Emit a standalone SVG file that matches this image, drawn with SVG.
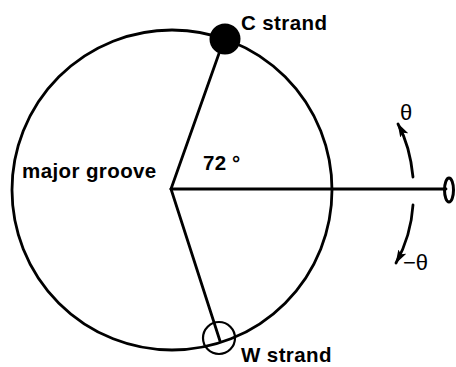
<svg xmlns="http://www.w3.org/2000/svg" width="456" height="367" viewBox="0 0 456 367">
<defs>
<style>
.ln{fill:none;stroke:#000;stroke-width:2.8;stroke-linecap:round}
.lbl{font-family:"Liberation Sans",Arial,sans-serif;font-weight:bold;font-size:20.5px;letter-spacing:0.4px;fill:#000}
.sym{font-family:"Liberation Sans",Arial,sans-serif;font-size:22px;fill:#000}
</style>
<marker id="ah" viewBox="0 0 14 9" refX="13" refY="4.5" markerWidth="14" markerHeight="9" markerUnits="userSpaceOnUse" orient="auto">
<path d="M0,0 L14,4.5 L0,9 L3,4.5 Z" fill="#000"/>
</marker>
</defs>
<g id="helix">
<circle class="ln" cx="172" cy="190" r="160"/>
</g>
<g id="connectors">
<line class="ln" x1="171" y1="189" x2="222" y2="45"/>
<line class="ln" x1="171" y1="189" x2="220" y2="341"/>
<line class="ln" x1="171" y1="189" x2="446" y2="189" stroke-width="3.2"/>
<path class="ln" d="M413,177 Q410,146 398,124" marker-end="url(#ah)"/>
<path class="ln" d="M413,205 Q411,236 396,263" marker-end="url(#ah)"/>
</g>
<g id="c-strand">
<circle cx="225" cy="39" r="15.5" fill="#000"/>
<text class="lbl" x="241" y="30">C strand</text>
</g>
<g id="w-strand">
<circle cx="219" cy="338" r="16" fill="none" stroke="#000" stroke-width="2.2"/>
<text class="lbl" x="241" y="362">W strand</text>
</g>
<g id="groove">
<text class="lbl" x="22" y="178">major groove</text>
</g>
<g id="angle">
<text class="lbl" x="203" y="170">72</text>
<text class="lbl" x="232" y="170">°</text>
</g>
<g id="axis-end">
<ellipse cx="449" cy="190" rx="4.5" ry="12" fill="none" stroke="#000" stroke-width="3"/>
</g>
<g id="theta">
<text class="sym" x="400" y="120">θ</text>
<text class="sym" x="403" y="270">−θ</text>
</g>
</svg>
